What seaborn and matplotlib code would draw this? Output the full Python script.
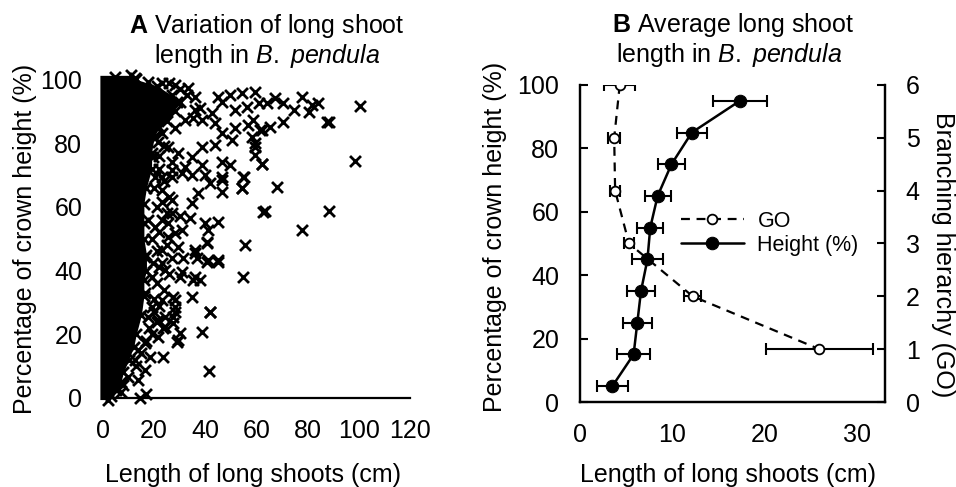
import numpy as np
import pandas as pd
import seaborn as sns
import matplotlib.pyplot as plt

# ---- Panel A: long shoot length vs crown height ----
# solid core of overlapping points (height %, outer length cm)
core_height = [-0.5, 0.5, 2.5, 5, 8, 12, 16, 20, 26, 32, 37, 40, 45, 50, 55, 61, 66,
               72, 77, 82, 85, 87, 90, 93, 95, 98, 100, 101.3]
core_len = [2, 3, 5, 7, 8, 10, 12, 13, 15, 16, 16, 17, 17, 16, 16, 16, 17,
            19, 19, 20, 22, 25, 28, 29, 27, 21, 13, 11]

# single shoots outside the core
shoot_len = [100.6, 98.6, 88.2, 77.7, 63.4, 68.0, 55.6, 62.1, 88.2, 77.7, 54.5, 55.0, 59.5,
             54.6, 41.9, 38.6, 41.6, 34.7, 29.5, 30.1, 23.6, 14.5, 16.7, 45.1, 40.6, 40.6,
             38.0, 35.3, 30.1, 36.0, 36.7, 27.5, 28.2, 27.5, 27.5, 24.3, 23.6,
             59.5, 54.3, 49.7, 45.1, 60.8, 56.2, 51.6, 46.4, 42.5, 38.6, 43.8, 51.6, 56.8,
             62.1, 46.4, 50.4, 58.2, 59.5, 43.8, 38.6, 34.7, 29.5, 25.5, 21.6, 32.1, 38.6,
             46.4, 49.7, 54.9, 46.4, 39.9, 26.9, 23.0,
             84.2, 81.7, 80.4, 74.5, 70.5, 67.3, 64.1, 70.5, 65.3, 61.4, 87.5, 62.1, 59.5,
             58.8, 54.3, 46.4, 46.4, 41.9, 37.3, 34.7, 62.7, 45.1, 39.9, 41.2, 34.0, 40.6,
             36.0, 45.1, 41.2, 31.4, 36.0, 30.8, 26.9, 30.8, 34.7, 30.1, 28.2, 29.5, 24.3,
             41.9, 28.8, 28.2, 28.2, 24.3, 21.6, 21.6, 18.4, 16.4, 13.8,
             23.0, 26.9, 24.9, 30.8, 25.5, 23.0, 19.7,
             20.3, 23.0, 17.7, 20.3, 23.0, 19.0, 16.4, 25.5,
             16.4, 19.0, 23.0, 16.4, 12.5, 9.9, 13.8, 17.7,
             4.7, 12.5, 17.7, 23.0, 28.2, 33.4, 36.0, 36.0, 32.1, 28.2, 23.0, 20.3, 19.7,
             22, 24, 20, 26, 21, 27, 23, 22, 19, 25, 21, 27, 22, 26, 21, 24, 20, 22,
             20, 21, 18, 19, 17, 15, 13, 8, 7, 24, 22, 27, 35, 38, 33, 30, 26, 30]
shoot_height = [91.7, 74.4, 58.8, 52.7, 58.8, 66.2, 48.0, 73.4, 86.8, 94.6, 66.0, 69.4, 78.9,
                38.1, 27.1, 20.8, 8.5, 31.8, 18.2, 20.3, 13.0, 0.0, 1.2, 42.8, 48.6, 42.8,
                37.0, 37.0, 38.1, 46.5, 43.9, 31.8, 28.7, 25.5, 23.5, 25.5, 21.9,
                96.2, 95.7, 95.1, 94.6, 92.5, 91.5, 90.4, 93.0, 89.4, 87.3, 86.2, 84.7, 85.7,
                84.1, 83.1, 81.0, 82.0, 76.3, 79.4, 78.9, 75.8, 76.8, 78.9, 80.5, 72.6, 73.2,
                74.2, 73.2, 69.5, 69.5, 70.0, 71.6, 69.5,
                92.5, 92.0, 89.9, 90.4, 92.5, 94.1, 92.5, 86.8, 85.2, 84.1, 86.8, 73.5, 80.0,
                87.3, 65.8, 68.4, 64.8, 67.4, 64.3, 61.1, 58.5, 55.4, 54.8, 52.7, 56.4, 49.1,
                45.4, 43.3, 43.3, 43.9, 38.1, 39.7, 69.5, 70.5, 70.0, 57.0, 51.7, 47.5, 40.2,
                26.9, 17.7, 27.1, 30.8, 22.4, 19.2, 24.5, 13.0, 8.8, 5.7,
                65.3, 62.2, 58.0, 52.7, 50.6, 46.5, 42.3,
                69.5, 61.6, 55.9, 53.8, 42.3, 38.1, 44.4, 54.8,
                32.9, 28.7, 30.8, 17.2, 11.9, 6.7, 15.1, 25.5,
                100.9, 100.4, 99.3, 98.8, 98.3, 97.2, 94.6, 90.4, 87.3, 84.7, 83.1, 81.5, 75.8,
                72, 68, 66, 63, 60, 58, 56, 52, 50, 48, 46, 44, 41, 39, 36, 34, 31, 29,
                27, 24, 22, 20, 18, 14, 10, 4, 2, 79, 76, 74, 88, 91, 95, 97, 99, 93]

# ---- Panel B: averages with error bars ----
height_pct = [95, 85, 75, 65, 55, 45, 35, 25, 15, 5]
height_len = [17.3, 12.1, 9.9, 8.4, 7.6, 7.3, 6.6, 6.2, 5.8, 3.5]
height_err = [2.9, 1.6, 1.5, 1.4, 1.4, 1.7, 1.5, 1.6, 1.8, 1.7]

go_order = [6, 5, 4, 3, 2, 1]
go_len = [4.3, 3.7, 3.8, 5.3, 12.2, 25.9]
go_err = [1.7, 0.65, 0.55, 0.55, 0.9, 5.8]

sns.set_style("white")
plt.rcParams['font.family'] = ['Liberation Sans', 'DejaVu Sans']
plt.rcParams['mathtext.fontset'] = 'custom'
plt.rcParams['mathtext.rm'] = 'Liberation Sans'
plt.rcParams['mathtext.it'] = 'Liberation Sans:italic'
plt.rcParams['mathtext.bf'] = 'Liberation Sans:bold'
for key in ['text.color', 'axes.labelcolor', 'xtick.color', 'ytick.color',
            'xtick.labelcolor', 'ytick.labelcolor']:
    plt.rcParams[key] = 'black'

FS = 18
fig = plt.figure(figsize=(9.56, 4.87), dpi=100)
axA = fig.add_axes([0.1077, 0.1828, 0.3212, 0.654])
axB = fig.add_axes([0.6067, 0.1745, 0.3190, 0.651])

# Panel A
axA.fill_betweenx(core_height, -1.2, core_len, color='black', lw=0, clip_on=False, zorder=2)
sns.scatterplot(x=core_len, y=core_height, marker='x', s=62, color='black',
                linewidth=2, ax=axA, clip_on=False, zorder=3)
sns.scatterplot(x=shoot_len, y=shoot_height, marker='x', s=62, color='black',
                linewidth=2, ax=axA, clip_on=False, zorder=3)
axA.set_xlim(0, 120)
axA.set_ylim(0, 100)
axA.set_xticks(range(0, 121, 20))
axA.set_yticks(range(0, 101, 20))
axA.spines['top'].set_visible(False)
axA.spines['right'].set_visible(False)
for s in ['left', 'bottom']:
    axA.spines[s].set_linewidth(1.6)
    axA.spines[s].set_color('black')
axA.tick_params(axis='x', direction='in', length=6, width=1.5, pad=15, labelsize=FS)
axA.tick_params(axis='y', direction='in', length=6, width=1.5, pad=15, labelsize=FS)
axA.set_xlabel('Length of long shoots (cm)', fontsize=FS, va='center')
axA.xaxis.set_label_coords(0.49, -0.242)
axA.set_ylabel('Percentage of crown height (%)', fontsize=FS, va='center')
axA.yaxis.set_label_coords(-0.254, 0.5)

# Panel B
axB2 = axB.twinx()
axB2.set_position(axB.get_position())

axB2.errorbar(go_len, go_order, xerr=go_err, fmt='none', ecolor='black',
              elinewidth=1.5, capsize=4.5, capthick=1.5, zorder=2)
sns.lineplot(x=go_len, y=go_order, sort=False, ax=axB2, color='black',
             linestyle=(0, (4, 3)), linewidth=1.6, marker='o', markersize=7,
             markerfacecolor='white', markeredgecolor='black', markeredgewidth=1.3,
             label='GO', legend=False, zorder=3)

axB.errorbar(height_len, height_pct, xerr=height_err, fmt='none', ecolor='black',
             elinewidth=1.5, capsize=4.5, capthick=1.5, zorder=2)
sns.lineplot(x=height_len, y=height_pct, sort=False, ax=axB, color='black',
             linewidth=1.8, marker='o', markersize=9, markeredgecolor='black',
             label='Height (%)', legend=False, zorder=3)

axB.set_xlim(0, 33)
axB.set_ylim(0, 100)
axB2.set_ylim(0, 6)
axB.set_xticks([0, 10, 20, 30])
axB.set_yticks(range(0, 101, 20))
axB2.set_yticks(range(0, 7))
for ax in (axB, axB2):
    ax.spines['top'].set_visible(False)
    for s in ['left', 'right', 'bottom']:
        ax.spines[s].set_linewidth(1.6)
        ax.spines[s].set_color('black')
axB.tick_params(axis='x', direction='in', length=6, width=1.5, pad=15, labelsize=FS)
axB.tick_params(axis='y', direction='in', length=6, width=1.5, pad=15, labelsize=FS)
axB2.tick_params(axis='y', direction='in', length=6, width=1.5, pad=15, labelsize=FS)
axB.set_xlabel('Length of long shoots (cm)', fontsize=FS, va='center')
axB.xaxis.set_label_coords(0.484, -0.23)
axB.set_ylabel('Percentage of crown height (%)', fontsize=FS, va='center')
axB.yaxis.set_label_coords(-0.279, 0.52)
axB2.set_ylabel('Branching hierarchy (GO)', fontsize=FS, rotation=270, va='center')
axB2.yaxis.set_label_coords(1.19, 0.464)

h1, l1 = axB2.get_legend_handles_labels()
h2, l2 = axB.get_legend_handles_labels()
axB2.legend(h1 + h2, l1 + l2, loc='center left', bbox_to_anchor=(0.332, 0.533),
            frameon=False, fontsize=15.5, handlelength=2.9, labelspacing=0.14,
            borderpad=0, borderaxespad=0, handletextpad=0.64)

# titles
fig.text(267 / 956, 1 - 33 / 487, r'$\mathbf{A}$ Variation of long shoot',
         ha='center', va='baseline', fontsize=FS)
fig.text(267 / 956, 1 - 63 / 487, r'length in $\mathit{B.\ pendula}$',
         ha='center', va='baseline', fontsize=FS)
fig.text(733 / 956, 1 - 32 / 487, r'$\mathbf{B}$ Average long shoot',
         ha='center', va='baseline', fontsize=FS)
fig.text(729 / 956, 1 - 62 / 487, r'length in $\mathit{B.\ pendula}$',
         ha='center', va='baseline', fontsize=FS)

fig.savefig('out.png', dpi=100)
